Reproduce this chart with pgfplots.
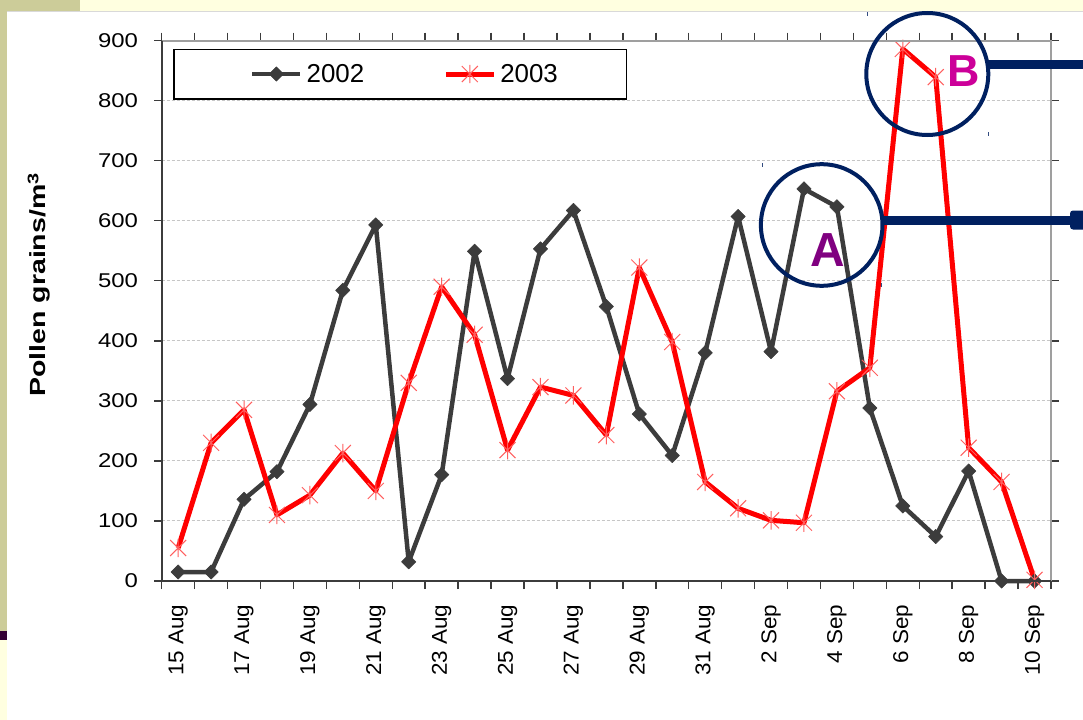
\documentclass[border=0pt]{standalone}
\usepackage{fontspec}
\setmainfont{Liberation Sans}
\newfontfamily\ytickfont[FakeStretch=1.2]{Liberation Sans}
\newfontfamily\xtickfont[FakeStretch=1.05]{Liberation Sans}
\newfontfamily\ylabfont[FakeStretch=1.3]{Liberation Sans}
\usepackage{pgfplots}
\pgfplotsset{compat=1.18}
\usepackage{pgfplotstable}

\definecolor{c02}{RGB}{60,60,60}
\definecolor{c03}{RGB}{255,0,0}
\definecolor{c03m}{RGB}{255,95,95}
\definecolor{navy}{RGB}{0,32,96}
\definecolor{khaki}{RGB}{204,204,153}
\definecolor{paley}{RGB}{255,255,224}
\definecolor{darkp}{RGB}{51,0,51}
\definecolor{lettA}{RGB}{128,0,128}
\definecolor{lettB}{RGB}{204,0,153}

\pgfdeclareplotmark{exstar}{%
  \pgfpathmoveto{\pgfpoint{-\pgfplotmarksize}{-\pgfplotmarksize}}%
  \pgfpathlineto{\pgfpoint{\pgfplotmarksize}{\pgfplotmarksize}}%
  \pgfpathmoveto{\pgfpoint{-\pgfplotmarksize}{\pgfplotmarksize}}%
  \pgfpathlineto{\pgfpoint{\pgfplotmarksize}{-\pgfplotmarksize}}%
  \pgfpathmoveto{\pgfpoint{0pt}{-1.15\pgfplotmarksize}}%
  \pgfpathlineto{\pgfpoint{0pt}{1.15\pgfplotmarksize}}%
  \pgfusepathqstroke}
\pgfdeclareplotmark{sqdiamond}{%
  \pgfpathmoveto{\pgfpoint{0pt}{\pgfplotmarksize}}%
  \pgfpathlineto{\pgfpoint{\pgfplotmarksize}{0pt}}%
  \pgfpathlineto{\pgfpoint{0pt}{-\pgfplotmarksize}}%
  \pgfpathlineto{\pgfpoint{-\pgfplotmarksize}{0pt}}%
  \pgfpathclose
  \pgfusepathqfillstroke}

\pgfplotstableread{
x y
0 15
1 15
2 136
3 182
4 294
5 484
6 593
7 32
8 177
9 549
10 337
11 553
12 617
13 457
14 278
15 209
16 380
17 607
18 382
19 653
20 623
21 288
22 125
23 74
24 183
25 0
26 0
}\dataA

\pgfplotstableread{
x y
0 55
1 230
2 285
3 110
4 143
5 213
6 150
7 330
8 490
9 410
10 218
11 323
12 309
13 243
14 522
15 398
16 165
17 121
18 101
19 97
20 316
21 355
22 886
23 839
24 222
25 165
26 2
}\dataB

\begin{document}
\begin{tikzpicture}
\useasboundingbox (0,0) rectangle (1083bp,-720bp);
\begin{scope}[x=1bp,y=-1bp]
  \fill[white] (0,0) rectangle (1083,720);
  \fill[paley] (80,0) rectangle (1083,11);
  \fill[khaki] (0,0) rectangle (80,11);
  \draw[black!15, line width=0.8bp] (6.7,11.5) -- (1083,11.5);
  \fill[khaki] (0,0) rectangle (6.7,631);
  \fill[darkp] (0,631) rectangle (6.7,640);
  \fill[paley] (0,640) rectangle (6.7,720);
\end{scope}
\begin{axis}[
  at={(161.7bp,-581bp)}, anchor=south west,
  scale only axis, width=889.3bp, height=540.5bp,
  xmin=-0.5, xmax=26.5, ymin=0, ymax=900,
  clip=false,
  ytick={0,100,...,900},
  xtick={0,2,...,26},
  xticklabels={15 Aug,17 Aug,19 Aug,21 Aug,23 Aug,25 Aug,27 Aug,29 Aug,31 Aug,2 Sep,4 Sep,6 Sep,8 Sep,10 Sep},
  minor xtick={-0.5,0.5,...,26.5},
  major x tick style={draw=none},
  tick align=outside,
  major tick length=7.5bp, minor tick length=8bp,
  tick style={line width=1.5bp, color=c02},
  ymajorgrids,
  major grid style={color=gray!45, line width=1bp, dash pattern=on 3bp off 2bp},
  axis line style={draw=none},
  /pgf/number format/assume math mode=true,
  yticklabel style={font=\ytickfont\fontsize{20}{24}\selectfont, inner sep=0pt},
  xticklabel style={rotate=90, anchor=east, font=\xtickfont\fontsize{21.5}{24}\selectfont, inner sep=0pt},
  yticklabel shift=16bp,
  xticklabel shift=16bp,
  ylabel={\bfseries Pollen grains/m\textsuperscript{3}},
  every axis y label/.style={at={(axis description cs:-0.138,0.548)}, rotate=90, anchor=center, font=\ylabfont\fontsize{22}{26}\selectfont},
  legend columns=2,
  legend style={at={(axis description cs:0.2725,0.938)}, anchor=center, draw=none, fill=none,
    font=\fontsize{26}{30}\selectfont, column sep=4bp, nodes={inner sep=0pt},
    /tikz/every even column/.append style={column sep=79bp}},
  legend image code/.code={\draw[mark repeat=2,mark phase=2,#1] plot coordinates {(0bp,0bp) (24bp,0bp) (48bp,0bp)};},
]
\addplot[color=c02, line width=4.5bp, line join=round, mark=sqdiamond, mark size=7.2bp,
  mark options={solid, fill=c02, draw=c02, line width=0.5bp}] table[x=x,y=y]{\dataA};
\addlegendentry{2002}
\addplot[color=c03, line width=5bp, line join=round, mark=exstar, mark size=8bp,
  mark options={solid, draw=c03m, line width=1bp}] table[x=x,y=y]{\dataB};
\addlegendentry{2003}
\end{axis}
\begin{scope}[x=1bp,y=-1bp]
  % axis frame
  \draw[gray!75, line width=2bp] (161.7,40.5) -- (1051,40.5) -- (1051,581);
  \draw[c02, line width=2bp] (161.7,40.5) -- (161.7,581) -- (1051,581);
  % legend frame
  \draw[black, line width=1.2bp] (174,49.3) rectangle (626.7,99);
  % annotations
  \draw[navy, line width=4bp] (821.7,225) circle (60.8);
  \draw[navy, line width=4bp] (927.3,74) circle (61);
  \draw[navy, line width=9bp] (882.5,220) -- (1075,220);
  \fill[navy, rounded corners=3bp] (1070,210.5) rectangle (1090,229.5);
  \draw[navy, line width=9bp] (988,64) -- (1090,64);
  \node[lettA, font=\bfseries\fontsize{48}{50}\selectfont, inner sep=0pt] at (828,250.5) {A};
  \node[lettB, font=\bfseries\fontsize{45}{48}\selectfont, inner sep=0pt] at (963.5,71) {B};
  \foreach \px/\py in {867.7/14, 762/165, 988/134, 881.7/285}
    \draw[navy!80, line width=1bp] (\px,\py-2) -- (\px,\py+2);
\end{scope}
\end{tikzpicture}
\end{document}
